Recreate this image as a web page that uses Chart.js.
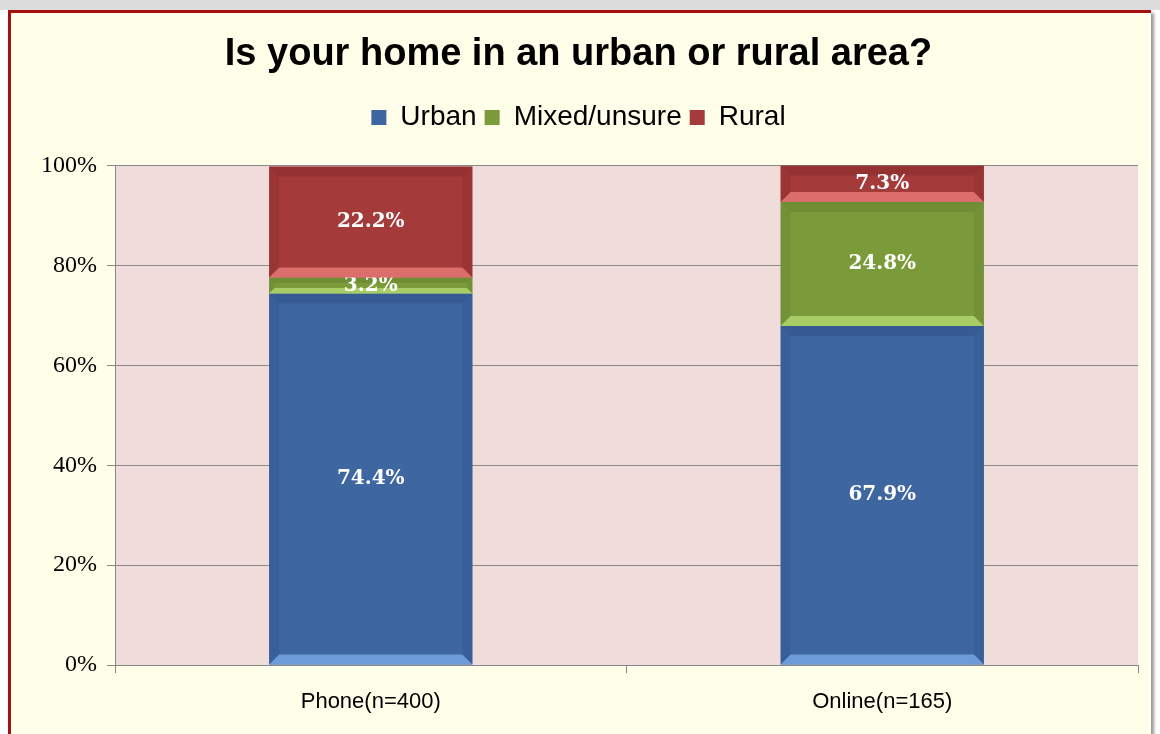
<!DOCTYPE html>
<html>
<head>
<meta charset="utf-8">
<script src="https://cdn.jsdelivr.net/npm/chart.js@4/dist/chart.umd.min.js"></script>
<style>
  html, body { margin: 0; padding: 0; background: #ffffff; }
  body { width: 1160px; height: 734px; position: relative; overflow: hidden; }
  .strip { position: absolute; left: 0; top: 0; width: 1160px; height: 10px; background: #dcdcdc; }
  .frame {
    position: absolute; left: 8px; top: 10px; width: 1140px; height: 722px;
    border-left: 3px solid #a50f0f; border-top: 3px solid #a50f0f;
    box-shadow: 3px 3px 3px #9a9a9a;
    background: #fefee9;
  }
  #chart { position: absolute; left: 0; top: 0; }
</style>
</head>
<body>
<div class="strip"></div>
<div class="frame">
  <canvas id="chart" width="1139" height="719"></canvas>
</div>
<script>
// chart data
const categories = ['Phone(n=400)', 'Online(n=165)'];
const urban = [74.4, 67.9];
const mixed = [3.2, 24.8];
const rural = [22.2, 7.3];
const yTicks = [0, 20, 40, 60, 80, 100];

const plotBg = {
  id: 'plotBg',
  beforeDraw(chart) {
    const a = chart.chartArea;
    const ctx = chart.ctx;
    ctx.save();
    ctx.fillStyle = '#f0dcdb';
    ctx.fillRect(a.left, a.top, a.right - a.left, a.bottom - a.top);
    ctx.restore();
  }
};

// extra room under the legend
const legendGap = {
  id: 'legendGap',
  beforeInit(chart) {
    const origFit = chart.legend.fit;
    chart.legend.fit = function () {
      origFit.bind(chart.legend)();
      this.height += 24;
    };
  }
};

// rough bevel look of the original bars + value labels
const bevelAndLabels = {
  id: 'bevelAndLabels',
  afterDatasetsDraw(chart) {
    const ctx = chart.ctx;
    chart.data.datasets.forEach(function (ds, di) {
      const meta = chart.getDatasetMeta(di);
      meta.data.forEach(function (bar, i) {
        const left = bar.x - bar.width / 2;
        const right = bar.x + bar.width / 2;
        const top = Math.min(bar.y, bar.base);
        const bottom = Math.max(bar.y, bar.base);
        const h = bottom - top;
        const b = Math.min(10, h / 3);
        ctx.save();
        // bottom light bevel
        ctx.fillStyle = ds.lightColor;
        ctx.beginPath();
        ctx.moveTo(left, bottom);
        ctx.lineTo(right, bottom);
        ctx.lineTo(right - b, bottom - b);
        ctx.lineTo(left + b, bottom - b);
        ctx.closePath();
        ctx.fill();
        // top dark bevel
        ctx.fillStyle = ds.darkColor;
        ctx.beginPath();
        ctx.moveTo(left, top);
        ctx.lineTo(right, top);
        ctx.lineTo(right - b, top + b);
        ctx.lineTo(left + b, top + b);
        ctx.closePath();
        ctx.globalAlpha = 0.4;
        ctx.fill();
        // side bevels
        ctx.globalAlpha = 0.25;
        ctx.beginPath();
        ctx.moveTo(left, top);
        ctx.lineTo(left + b, top + b);
        ctx.lineTo(left + b, bottom - b);
        ctx.lineTo(left, bottom);
        ctx.closePath();
        ctx.fill();
        ctx.beginPath();
        ctx.moveTo(right, top);
        ctx.lineTo(right - b, top + b);
        ctx.lineTo(right - b, bottom - b);
        ctx.lineTo(right, bottom);
        ctx.closePath();
        ctx.fill();
        ctx.restore();

        // value label
        ctx.save();
        ctx.fillStyle = '#ffffff';
        ctx.font = 'bold 20px "DejaVu Serif", "Liberation Serif", serif';
        ctx.textAlign = 'center';
        ctx.textBaseline = 'middle';
        ctx.fillText(ds.data[i].toFixed(1) + '%', bar.x, (top + bottom) / 2);
        ctx.restore();
      });
    });
  }
};

const ctx = document.getElementById('chart').getContext('2d');
new Chart(ctx, {
  type: 'bar',
  data: {
    labels: categories,
    datasets: [
      { label: 'Urban', data: urban, backgroundColor: '#3e66a1', lightColor: '#6b9bd8', darkColor: '#2b4c7e' },
      { label: 'Mixed/unsure', data: mixed, backgroundColor: '#7b9b3b', lightColor: '#a9cd66', darkColor: '#5c772a' },
      { label: 'Rural', data: rural, backgroundColor: '#a43a3a', lightColor: '#db6d6b', darkColor: '#7e2626' }
    ]
  },
  options: {
    responsive: false,
    animation: false,
    layout: { padding: { left: 8, right: 12, top: 0, bottom: 0 } },
    datasets: {
      bar: { categoryPercentage: 0.8, barPercentage: 0.497, borderWidth: 0 }
    },
    plugins: {
      title: {
        display: true,
        text: 'Is your home in an urban or rural area?',
        color: '#000000',
        font: { family: '"Liberation Sans", Arial, sans-serif', size: 38, weight: 'bold' },
        padding: { top: 19, bottom: 18 }
      },
      legend: {
        display: true,
        labels: {
          color: '#000000',
          font: { family: '"Liberation Sans", Arial, sans-serif', size: 28 },
          boxWidth: 15,
          boxHeight: 15,
          padding: 8
        }
      },
      tooltip: { enabled: false }
    },
    scales: {
      x: {
        stacked: true,
        offset: true,
        grid: { display: true, drawOnChartArea: false, offset: true, color: '#888888', tickLength: 8 },
        border: { color: '#888888' },
        ticks: {
          color: '#000000',
          font: { family: '"Liberation Sans", Arial, sans-serif', size: 22 },
          padding: 16
        },
        afterFit(scale) { scale.height = 67; }
      },
      y: {
        stacked: true,
        min: 0,
        max: 100,
        afterBuildTicks(scale) { scale.ticks = yTicks.map(v => ({ value: v })); },
        grid: { color: '#888888', tickLength: 8 },
        border: { color: '#888888' },
        ticks: {
          color: '#000000',
          font: { family: '"Liberation Serif", "Times New Roman", serif', size: 24 },
          padding: 10,
          callback: v => v + '%'
        },
        afterFit(scale) { scale.width = 96; }
      }
    }
  },
  plugins: [plotBg, legendGap, bevelAndLabels]
});
</script>
</body>
</html>
